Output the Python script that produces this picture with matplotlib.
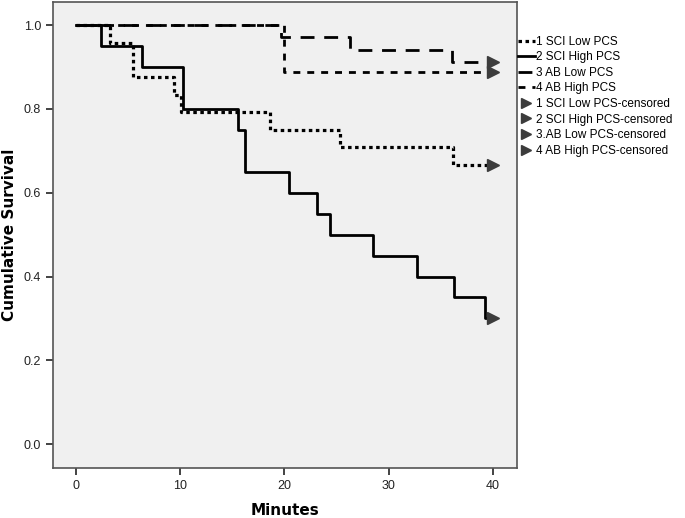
import matplotlib
matplotlib.use("Agg")
import matplotlib.pyplot as plt
from matplotlib.lines import Line2D

# --------------------------
# Kaplan-Meier data
# --------------------------
sci_low_t = [0, 3.3, 5.5, 9.4, 10.1, 18.6, 25.3, 36.2, 40]
sci_low_s = [1.0, 0.958, 0.875, 0.833, 0.792, 0.750, 0.708, 0.667, 0.667]

sci_high_t = [0, 2.4, 6.3, 10.3, 15.5, 16.2, 20.4, 23.1, 24.4, 28.5, 32.7, 36.3, 39.2, 40]
sci_high_s = [1.0, 0.95, 0.90, 0.80, 0.75, 0.65, 0.60, 0.55, 0.50, 0.45, 0.40, 0.35, 0.30, 0.30]

ab_low_t = [0, 19.7, 26.3, 36.1, 40]
ab_low_s = [1.0, 0.971, 0.941, 0.912, 0.912]

ab_high_t = [0, 20.0, 40]
ab_high_s = [1.0, 0.889, 0.889]

censor_time = 40

labels = ["1 SCI Low PCS", "2 SCI High PCS", "3 AB Low PCS", "4 AB High PCS"]
censor_labels = ["1 SCI Low PCS-censored", "2 SCI High PCS-censored",
                 "3.AB Low PCS-censored", "4 AB High PCS-censored"]
xticks = [0, 10, 20, 30, 40]
yticks = [0.0, 0.2, 0.4, 0.6, 0.8, 1.0]

plt.rcParams["font.family"] = ["Liberation Sans", "DejaVu Sans"]

fig = plt.figure(figsize=(6.85, 5.18), dpi=100)
ax = fig.add_axes([0.0774, 0.0965, 0.6773, 0.8995])
ax.set_facecolor("#f0f0f0")

styles = [
    dict(color="black", lw=2.3, linestyle=(0, (1.1, 1.1))),
    dict(color="black", lw=2.0, linestyle="-"),
    dict(color="black", lw=2.0, linestyle=(0, (5, 3.5))),
    dict(color="black", lw=2.0, linestyle=(0, (2.5, 2.5))),
]
series = [(sci_low_t, sci_low_s), (sci_high_t, sci_high_s),
          (ab_low_t, ab_low_s), (ab_high_t, ab_high_s)]

# draw the solid one last so it sits on top
order = [0, 2, 3, 1]
for i in order:
    t, s = series[i]
    ax.step(t, s, where="post", zorder=3, **styles[i])

for t, s in series:
    ax.plot([censor_time], [s[-1]], marker=">", markersize=9, color="#3c3c3c",
            linestyle="none", zorder=4)

ax.set_xlim(-2.2, 42.3)
ax.set_ylim(-0.057, 1.055)
ax.set_xticks(xticks)
ax.set_yticks(yticks)
ax.set_yticklabels([f"{v:.1f}" for v in yticks])
ax.tick_params(direction="out", length=5, width=1.2, labelsize=9, colors="#222222")
for sp in ax.spines.values():
    sp.set_color("#555555")
    sp.set_linewidth(1.2)

ax.set_xlabel("Minutes", fontsize=11, fontweight="bold", family="DejaVu Sans", labelpad=8)
ax.set_ylabel("Cumulative Survival", fontsize=11, fontweight="bold", family="DejaVu Sans", labelpad=5)

handles = [Line2D([0], [0], **st) for st in styles]
handles += [Line2D([0], [0], marker=">", markersize=7, color="#3c3c3c", linestyle="none")
            for _ in range(4)]
leg = ax.legend(handles, labels + censor_labels, loc="upper left",
                bbox_to_anchor=(1.0, 0.93), frameon=False, fontsize=8.5,
                handlelength=1.4, handletextpad=0.15, labelspacing=0.3,
                borderaxespad=0.1, borderpad=0.0)

fig.savefig("out.png", dpi=100)
